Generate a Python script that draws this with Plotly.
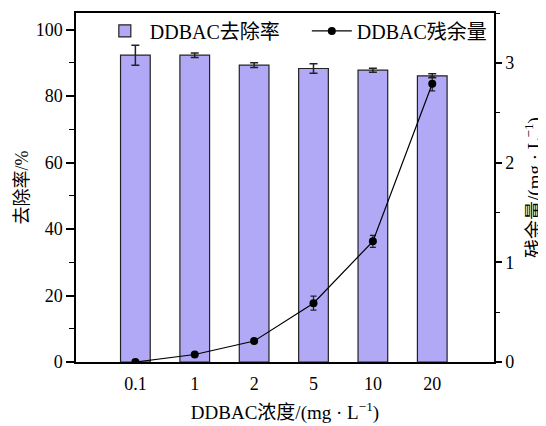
import plotly.graph_objects as go

categories = ["0.1", "1", "2", "5", "10", "20"]
removal_rate = [92.3, 92.3, 89.3, 88.3, 87.8, 86.1]
removal_err = [3.0, 0.7, 0.7, 1.4, 0.6, 0.6]
residual = [0.0, 0.075, 0.21, 0.59, 1.21, 2.79]
residual_err = [0.0, 0.0, 0.0, 0.07, 0.06, 0.07]

FONT = "Liberation Serif, Times New Roman, Noto Sans CJK SC, serif"
BAR_COLOR = "#b1a9f6"

fig = go.Figure()
fig.add_trace(go.Bar(
    x=categories, y=removal_rate, name="DDBAC去除率",
    width=0.5,
    marker=dict(color=BAR_COLOR, line=dict(color="#222222", width=1.2)),
    error_y=dict(type="data", array=removal_err, visible=True,
                 color="#222222", thickness=1.5, width=4),
    yaxis="y",
))
fig.add_trace(go.Scatter(
    x=categories, y=residual, name="DDBAC残余量",
    mode="lines+markers",
    line=dict(color="black", width=1.2),
    marker=dict(color="black", size=8),
    error_y=dict(type="data", array=residual_err, visible=True,
                 color="#222222", thickness=1.2, width=3),
    yaxis="y2",
))

axis_common = dict(showline=True, linecolor="black", linewidth=1.5,
                   showgrid=False, zeroline=False, automargin=False,
                   tickfont=dict(family=FONT, size=18, color="black"))

# page body adds an 8px offset; figure is sized to compensate
fig.update_layout(
    width=538, height=418,
    margin=dict(l=68, r=52, t=4, b=64),
    paper_bgcolor="white", plot_bgcolor="white",
    font=dict(family=FONT, color="black"),
    showlegend=True,
    legend=dict(orientation="h", x=0.057, y=0.946, xanchor="left", yanchor="middle",
                font=dict(family=FONT, size=20, color="black"),
                bgcolor="rgba(0,0,0,0)", itemwidth=40,
                entrywidth=152, entrywidthmode="pixels", tracegroupgap=0),
    xaxis=dict(**axis_common, type="category", range=[-1, 6.04],
               ticks="", mirror=True, ticklabelstandoff=5,
               title=dict(text="DDBAC浓度/(mg · L<sup>−1</sup>)",
                          font=dict(family=FONT, size=19), standoff=12)),
    yaxis=dict(**axis_common, range=[0, 105], dtick=20, tick0=0,
               ticks="outside", ticklen=8, tickwidth=1.5, tickcolor="black",
               minor=dict(dtick=10, ticks="outside", ticklen=5, tickwidth=1.2, tickcolor="black"),
               title=dict(text="去除率/%", font=dict(family=FONT, size=18), standoff=2)),
    yaxis2=dict(**axis_common, overlaying="y", side="right", range=[0, 3.5],
                dtick=1, tick0=0,
                ticks="outside", ticklen=6, tickwidth=1.5, tickcolor="black",
                minor=dict(dtick=0.5, ticks="outside", ticklen=4, tickwidth=1.2, tickcolor="black"),
                title=dict(text="残余量/(mg · L<sup>−1</sup>)", font=dict(family=FONT, size=19), standoff=20)),
)

fig.write_html("out.html")
